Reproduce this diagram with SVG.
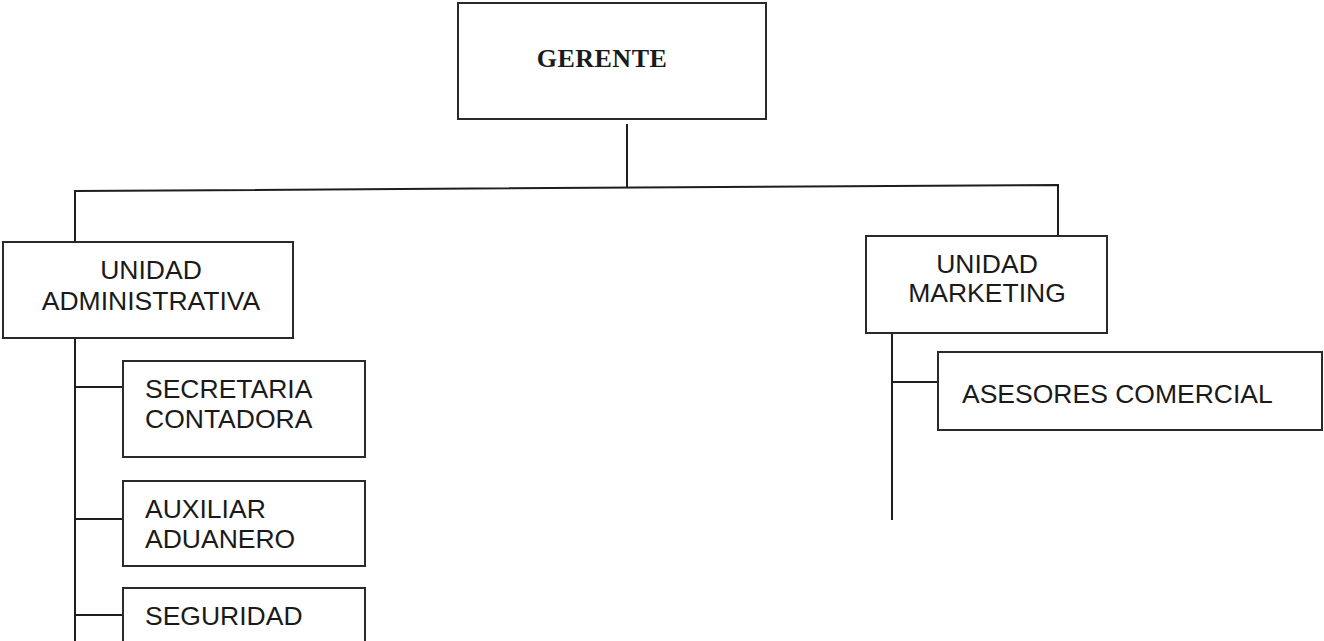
<svg xmlns="http://www.w3.org/2000/svg" width="1324" height="641" viewBox="0 0 1324 641">
<style>
.box{fill:#fff;stroke:#2a2a2a;stroke-width:2}
.ln{fill:none;stroke:#1e1e1e;stroke-width:2}
.t{font-family:"Liberation Sans",Arial,sans-serif;font-size:26.5px;fill:#1a1a1a}
.tb{font-family:"Liberation Serif","Times New Roman",serif;font-size:26px;font-weight:bold;fill:#1a1a1a}
</style>
<rect width="1324" height="641" fill="#fff"/>
<g id="connectors">
<path class="ln" d="M627 124 V188"/>
<path class="ln" d="M75 242 V191 L1058 185 V235"/>
<path class="ln" d="M75 338 V641"/>
<path class="ln" d="M75 387 H123"/>
<path class="ln" d="M75 519 H123"/>
<path class="ln" d="M75 615 H123"/>
<path class="ln" d="M892 333 V520"/>
<path class="ln" d="M892 382 H938"/>
</g>
<g id="gerente">
<rect class="box" x="458" y="3" width="308" height="116"/>
<text class="tb" x="602" y="67" text-anchor="middle" letter-spacing="0.5">GERENTE</text>
</g>
<g id="unidad-administrativa">
<rect class="box" x="3" y="242" width="290" height="96"/>
<text class="t" x="151" y="279" text-anchor="middle">UNIDAD</text>
<text class="t" x="151" y="310" text-anchor="middle">ADMINISTRATIVA</text>
</g>
<g id="secretaria-contadora">
<rect class="box" x="123" y="361" width="242" height="96"/>
<text class="t" x="145" y="398">SECRETARIA</text>
<text class="t" x="145" y="428">CONTADORA</text>
</g>
<g id="auxiliar-aduanero">
<rect class="box" x="123" y="481" width="242" height="85"/>
<text class="t" x="145" y="518">AUXILIAR</text>
<text class="t" x="145" y="548">ADUANERO</text>
</g>
<g id="seguridad">
<rect class="box" x="123" y="588" width="242" height="70"/>
<text class="t" x="145" y="625">SEGURIDAD</text>
</g>
<g id="unidad-marketing">
<rect class="box" x="866" y="236" width="241" height="97"/>
<text class="t" x="987" y="273" text-anchor="middle">UNIDAD</text>
<text class="t" x="987" y="302" text-anchor="middle">MARKETING</text>
</g>
<g id="asesores-comercial">
<rect class="box" x="938" y="352" width="384" height="78"/>
<text class="t" x="962" y="403">ASESORES COMERCIAL</text>
</g>
</svg>
